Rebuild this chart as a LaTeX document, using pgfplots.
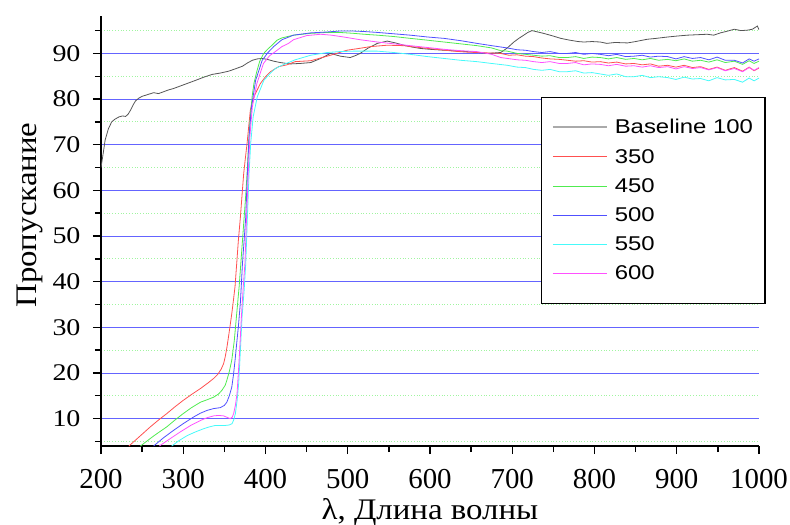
\documentclass[border=0pt]{standalone}
\usepackage{fontspec}
\setmainfont{Liberation Serif}
\newfontfamily\serifS{Liberation Serif}[FakeStretch=1.17]
\newfontfamily\serifL{Liberation Serif}[FakeStretch=1.1]
\newfontfamily\legfont{Liberation Sans}[FakeStretch=1.2]
\usepackage{pgfplots}
\pgfplotsset{compat=1.18}

\definecolor{cBase}{RGB}{85,85,85}
\definecolor{cBaseLeg}{RGB}{170,170,170}
\definecolor{cRed}{RGB}{255,80,80}
\definecolor{cGreen}{RGB}{80,235,80}
\definecolor{cBlue}{RGB}{80,80,255}
\definecolor{cCyan}{RGB}{70,250,250}
\definecolor{cMag}{RGB}{255,80,255}
\definecolor{gridBlue}{RGB}{100,100,255}
\definecolor{gridGreen}{RGB}{160,245,160}

\begin{document}
\begin{tikzpicture}
\useasboundingbox (-101bp,-79bp) rectangle (689bp,446bp);
\begin{axis}[
    at={(0,0)}, anchor=south west,
    scale only axis,
    width=658bp, height=430bp,
    xmin=200, xmax=1000,
    ymin=4, ymax=98.2,
    xtick={200,300,...,1000},
    ytick={10,20,...,90},
    minor xtick={250,350,...,950},
    minor ytick={5,15,...,95},
    axis lines*=left,
    axis line style={line width=1.4bp, -},
    tick style={black, line width=1.4bp},
    tick align=outside,
    major tick length=8bp,
    minor tick length=6bp,
    ymajorgrids, yminorgrids,
    major grid style={gridBlue, line width=0.7bp},
    minor grid style={gridGreen, line width=0.8bp, dotted},
    /pgf/number format/assume math mode=true,
    /pgf/number format/1000 sep={},
    xticklabel style={font=\fontsize{29}{33}\selectfont, yshift=-12bp},
    yticklabel style={font=\serifS\fontsize{24}{28}\selectfont, xshift=-9bp},
    xlabel={λ, Длина волны},
    ylabel={Пропускание},
    label style={font=\serifL\fontsize{30}{34}\selectfont},
    xlabel style={at={(axis description cs:0.5,0)}, yshift=-66bp, anchor=center},
    ylabel style={at={(axis description cs:-0.108,0.537)}, anchor=center},
    legend cell align=left,
    legend style={at={(rel axis cs:0.669,0.812)}, anchor=north west,
        draw=black, line width=1.2bp, fill=white,
        inner xsep=10bp, inner ysep=20bp, row sep=9.8bp,
        font=\legfont\fontsize{20}{24}\selectfont},
    legend image code/.code={\draw[#1] (0bp,0bp) -- (54bp,0bp);},
    every axis plot/.append style={line width=0.8bp},
]
\addlegendimage{draw=cBaseLeg, line width=2bp}
\addlegendentry{\hspace{5bp}Baseline 100}
\addlegendimage{draw=cRed, line width=0.9bp}
\addlegendentry{\hspace{5bp}350}
\addlegendimage{draw=cGreen, line width=0.9bp}
\addlegendentry{\hspace{5bp}450}
\addlegendimage{draw=cBlue, line width=0.9bp}
\addlegendentry{\hspace{5bp}500}
\addlegendimage{draw=cCyan, line width=0.9bp}
\addlegendentry{\hspace{5bp}550}
\addlegendimage{draw=cMag, line width=0.9bp}
\addlegendentry{\hspace{5bp}600}

% Baseline 100
\addplot[cBase, forget plot] coordinates {
(200,65.0)(203,68.5)(205,71.0)(209,73.5)(213,75.0)(217,75.6)(222,76.1)(226,76.3)(230,76.2)(233,76.7)
(236,77.6)(239,78.7)(242,79.6)(246,80.2)(250,80.6)(257,81.0)(264,81.4)(270,81.2)(276,81.6)(282,82.0)
(288,82.3)(300,83.1)(315,84.1)(325,84.8)(335,85.4)(345,85.7)(355,86.1)(363,86.6)(372,87.2)(378,87.9)
(384,88.5)(390,88.8)(396,88.9)(402,88.7)(410,88.3)(418,88.0)(430,87.7)(442,87.8)(455,88.0)(467,88.9)
(479,90.0)(485,89.7)(491,89.4)(503,89.1)(509,89.5)(515,90.0)(525,91.2)(536,92.2)(548,92.7)(558,92.3)
(568,91.8)(578,91.4)(588,91.1)(600,90.9)(617,90.7)(637,90.5)(653,90.3)(670,90.0)(686,90.2)(694,91.2)
(702,92.5)(708,93.3)(714,94.0)(719,94.6)(724,95.0)(731,94.7)(738,94.4)(748,93.9)(759,93.3)(770,92.9)
(780,92.6)(787,92.5)(797,92.6)(807,92.5)(815,92.2)(825,92.4)(840,92.3)(850,92.6)(864,93.1)(875,93.3)
(889,93.6)(900,93.8)(913,94.0)(925,94.1)(937,94.2)(945,94.0)(953,94.5)(960,94.8)(970,95.3)(978,95.0)
(986,95.1)(992,95.3)(998,96.0)(1000,95.2)
};
% 350
\addplot[cRed, forget plot] coordinates {
(234,4.0)(247,6.1)(260,8.2)(270,9.7)(280,11.1)(290,12.6)(300,14.0)(311,15.4)(321,16.6)(330,17.8)
(337,18.8)(342,19.7)(346,20.8)(349,22.0)(351,23.5)(353,25.5)(355,27.9)(357,30.4)(359,33.0)(361,35.9)
(363,39.0)(365,44.0)(367,49.0)(369.5,54.2)(371.5,59.0)(373.5,63.7)(375.5,67.0)(377.6,70.3)(379.6,74.0)
(381.6,77.6)(384,79.5)(387.7,81.2)(393.8,83.4)(400,84.9)(406,86.0)(416,87.1)(426,87.5)(436,88.2)
(455,88.4)(467,89.0)(479,89.6)(490,90.2)(499,90.7)(514,91.1)(528,91.5)(548,91.8)(568,91.7)(582,91.4)
(597,91.1)(613,90.8)(629,90.5)(643,90.3)(657,90.2)(672,90.1)(686,90.0)(696,89.6)(706,89.7)(716,89.4)
(726,89.3)(736,89.0)(746,88.8)(757,88.7)(767,88.5)(777,88.3)(787,88.4)(797,88.1)(807,88.2)(817,87.9)
(827,88.1)(838,87.7)(848,87.8)(858,87.5)(868,87.7)(878,87.2)(889,87.4)(899,87.0)(909,87.4)(919,86.9)
(929,87.1)(939,86.5)(949,87.0)(959,86.3)(970,86.9)(980,86.1)(988,87.0)(994,86.2)(1000,86.8)
};
% 450
\addplot[cGreen, forget plot] coordinates {
(248,4.0)(264,6.2)(280,8.2)(290,9.7)(300,11.1)(310,12.4)(321,13.6)(330,14.2)(337,14.7)(343,15.4)
(347,16.2)(351,17.3)(353,18.4)(356,20.3)(359,22.8)(362,27.0)(364,31.0)(366,35.0)(368,39.0)(370,44.0)
(372,49.0)(374,54.0)(376,59.0)(377.6,63.7)(379,68.5)(380.4,73.2)(382,77.0)(383.7,80.5)(386,83.5)
(389.8,86.3)(393,88.3)(397.8,90.0)(403,91.0)(408,91.8)(414,92.9)(420,93.4)(434,94.0)(455,94.4)
(475,94.6)(490,94.6)(507,94.4)(520,94.2)(536,94.0)(556,93.7)(576,93.3)(597,92.9)(617,92.5)(637,92.1)
(657,91.7)(675,91.2)(686,90.6)(694,90.5)(706,90.0)(716,89.8)(726,89.6)(736,89.4)(746,89.5)(757,89.1)
(767,89.1)(777,89.3)(787,88.9)(797,89.2)(807,89.1)(817,88.8)(827,89.1)(838,88.7)(848,88.9)(858,88.6)
(868,88.9)(878,88.5)(889,88.7)(899,88.4)(909,88.8)(919,88.3)(929,88.5)(939,88.1)(949,88.6)(959,88.0)
(970,88.3)(980,87.6)(988,88.4)(994,87.8)(1000,88.3)
};
% 500
\addplot[cBlue, forget plot] coordinates {
(264,4.0)(276,5.8)(288,7.4)(300,8.9)(313,10.4)(321,11.2)(329,11.8)(337,12.2)(345,12.4)(350,12.9)
(353,13.6)(356,15.0)(359,16.9)(361,19.5)(363,22.8)(365,26.5)(367,30.1)(369.5,35.5)(372,44.0)(374,49.0)
(376,54.2)(378,63.7)(380,71.7)(383,78.3)(388,84.1)(396,88.5)(403,90.2)(410,91.5)(420,93.0)(434,94.0)
(455,94.5)(475,94.7)(490,94.9)(507,94.9)(520,94.8)(536,94.6)(556,94.3)(576,94.0)(597,93.6)(617,93.3)
(637,92.8)(657,92.2)(675,91.7)(694,91.2)(706,90.8)(716,90.7)(726,90.4)(736,90.2)(746,90.4)(757,90.0)
(767,90.0)(777,90.2)(787,89.8)(797,90.0)(807,89.8)(817,89.5)(827,89.8)(838,89.3)(848,89.4)(858,89.6)
(868,89.2)(878,89.4)(889,89.3)(899,88.8)(909,89.3)(919,88.9)(929,89.1)(939,88.6)(949,89.2)(959,88.5)
(970,88.5)(980,87.9)(988,88.8)(994,88.3)(1000,88.8)
};
% 550
\addplot[cCyan, forget plot] coordinates {
(286,4.0)(295,5.2)(305,6.3)(315,7.1)(325,7.8)(332,8.2)(339,8.5)(345,8.5)(351,8.5)(356,8.6)
(359.4,8.9)(361.5,9.8)(363.4,11.1)(365.5,14.0)(367.4,17.7)(369.5,25.0)(371.5,32.3)(374,38.0)(376,44.0)
(378,54.2)(380,63.7)(382,70.3)(385,76.1)(390,80.5)(398,84.1)(406,85.7)(412,86.7)(420,87.4)(428,88.0)
(436,88.6)(455,89.6)(475,90.2)(490,90.4)(507,90.5)(520,90.5)(536,90.5)(556,90.2)(576,89.8)(597,89.3)
(617,88.9)(637,88.5)(657,88.2)(675,87.8)(694,87.4)(706,87.0)(716,86.9)(726,86.5)(736,86.3)(746,86.5)
(757,86.0)(767,86.0)(777,86.2)(787,85.7)(797,85.8)(807,85.5)(817,85.2)(827,85.5)(838,84.9)(848,84.9)
(858,85.2)(868,84.7)(878,84.9)(889,84.7)(899,84.3)(909,84.8)(919,84.4)(929,84.5)(939,84.0)(949,84.7)
(959,84.2)(970,84.3)(980,83.7)(988,84.6)(994,84.0)(1000,84.6)
};
% 600
\addplot[cMag, forget plot] coordinates {
(271,4.0)(284,5.6)(296.5,7.1)(309,8.5)(321,9.6)(329,10.2)(337,10.6)(343,10.7)(349,10.6)(353,10.3)
(357,10.0)(359.5,10.3)(361.3,11.1)(363.5,13.0)(365.4,15.5)(367,20.0)(368.6,25.0)(370.7,32.3)(373,39.0)
(375,44.0)(377,54.2)(379,63.7)(381,71.7)(384,78.3)(389.5,83.4)(397.5,87.8)(405,89.5)(412,90.4)(420,91.5)
(428,92.2)(434,93.0)(450,93.9)(467,94.2)(480,94.0)(495,93.6)(515,93.0)(536,92.5)(556,92.1)(576,91.7)
(597,91.3)(617,90.9)(637,90.6)(657,90.4)(675,89.8)(686,89.1)(694,88.9)(706,88.6)(716,88.5)(726,88.2)
(736,88.0)(746,88.2)(757,87.8)(767,87.8)(777,88.0)(787,87.5)(797,87.7)(807,87.6)(817,87.3)(827,87.6)
(838,87.2)(848,87.3)(858,87.0)(868,87.3)(878,86.9)(889,87.1)(899,86.6)(909,87.1)(919,86.7)(929,86.9)
(939,86.4)(949,86.9)(959,86.2)(970,86.7)(980,86.0)(988,86.9)(994,86.3)(1000,86.9)
};
\end{axis}
\end{tikzpicture}
\end{document}
